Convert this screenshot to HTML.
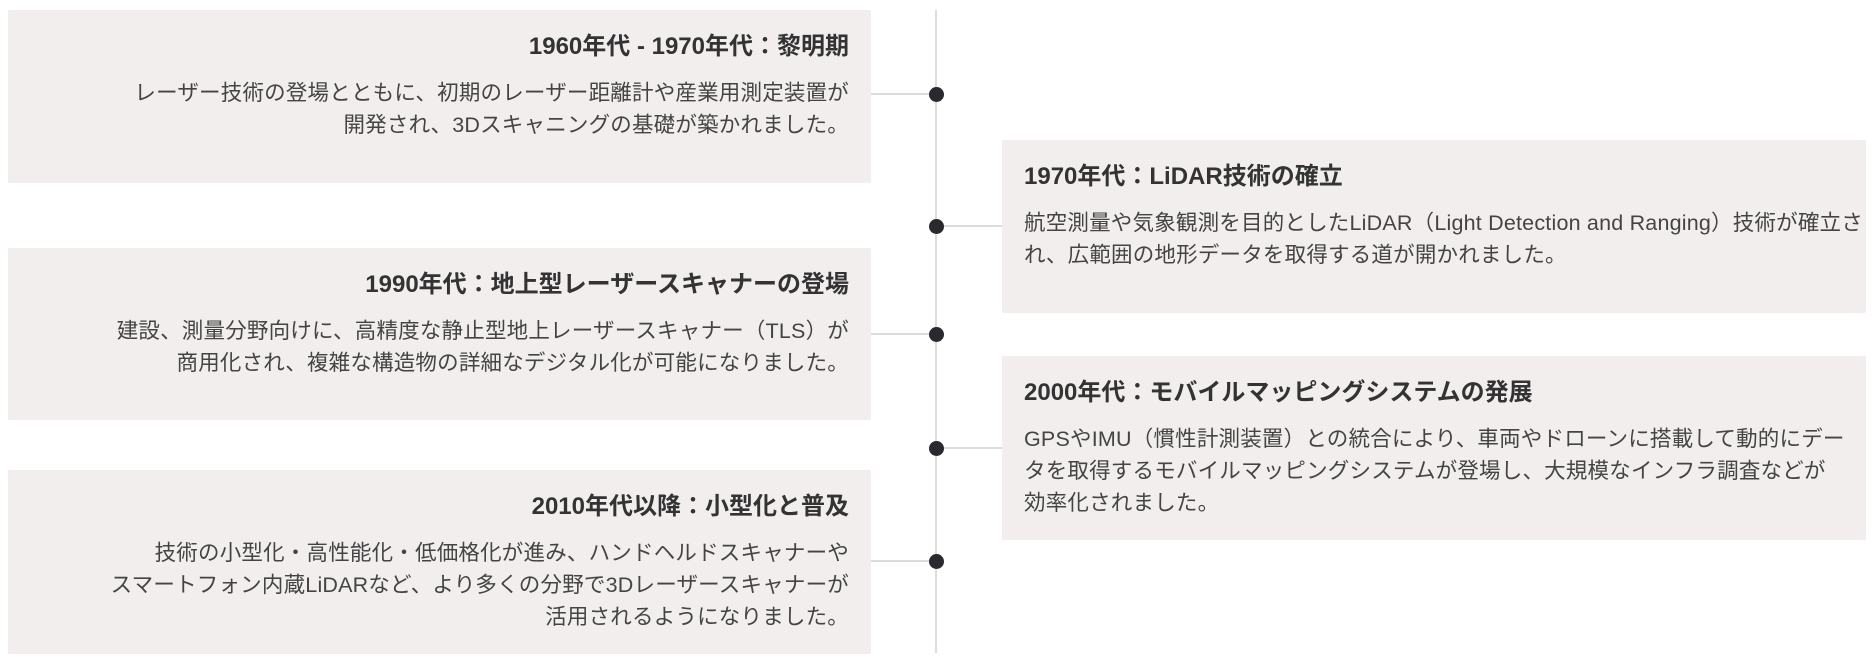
<!DOCTYPE html>
<html><head><meta charset="utf-8"><style>
body{margin:0;width:1875px;height:661px;background:#fff;position:relative;overflow:hidden;font-family:"Liberation Sans","Noto Sans CJK JP",sans-serif;color:#333;}
.card{position:absolute;background:#f1eeed;border-radius:2px;box-sizing:border-box;padding:21px 22px 0 22px;}
.l{left:8px;width:863px;text-align:right;}
.r{left:1002px;width:864px;text-align:left;}
h3{margin:0;font-size:24px;line-height:31px;font-weight:bold;color:#333;white-space:nowrap;}
p{margin:15px 0 0 0;font-size:21.5px;line-height:32px;color:#444;white-space:nowrap;letter-spacing:0.2px;}
.line{position:absolute;left:935px;top:10px;width:2px;height:643px;background:#dcdcdc;}
.c{position:absolute;height:2px;background:#dcdcdc;}
.dot{position:absolute;width:15px;height:15px;border-radius:50%;background:#2a2a2e;left:929px;}
</style></head><body>
<div class="line"></div>
<div class="c" style="left:871px;width:65px;top:93px"></div>
<div class="c" style="left:936px;width:66px;top:225px"></div>
<div class="c" style="left:871px;width:65px;top:333px"></div>
<div class="c" style="left:936px;width:66px;top:447px"></div>
<div class="c" style="left:871px;width:65px;top:560px"></div>
<div class="dot" style="top:87px"></div>
<div class="dot" style="top:219px"></div>
<div class="dot" style="top:327px"></div>
<div class="dot" style="top:441px"></div>
<div class="dot" style="top:554px"></div>

<div class="card l" style="top:10px;height:173px">
<h3>1960年代 - 1970年代：黎明期</h3>
<p>レーザー技術の登場とともに、初期のレーザー距離計や産業用測定装置が<br>開発され、3Dスキャニングの基礎が築かれました。</p>
</div>
<div class="card r" style="top:140px;height:173px">
<h3>1970年代：LiDAR技術の確立</h3>
<p>航空測量や気象観測を目的としたLiDAR（Light Detection and Ranging）技術が確立さ<br>れ、広範囲の地形データを取得する道が開かれました。</p>
</div>
<div class="card l" style="top:248px;height:172px">
<h3>1990年代：地上型レーザースキャナーの登場</h3>
<p>建設、測量分野向けに、高精度な静止型地上レーザースキャナー（TLS）が<br>商用化され、複雑な構造物の詳細なデジタル化が可能になりました。</p>
</div>
<div class="card r" style="top:356px;height:184px">
<h3>2000年代：モバイルマッピングシステムの発展</h3>
<p>GPSやIMU（慣性計測装置）との統合により、車両やドローンに搭載して動的にデー<br>タを取得するモバイルマッピングシステムが登場し、大規模なインフラ調査などが<br>効率化されました。</p>
</div>
<div class="card l" style="top:470px;height:184px">
<h3>2010年代以降：小型化と普及</h3>
<p>技術の小型化・高性能化・低価格化が進み、ハンドヘルドスキャナーや<br>スマートフォン内蔵LiDARなど、より多くの分野で3Dレーザースキャナーが<br>活用されるようになりました。</p>
</div>
</body></html>
